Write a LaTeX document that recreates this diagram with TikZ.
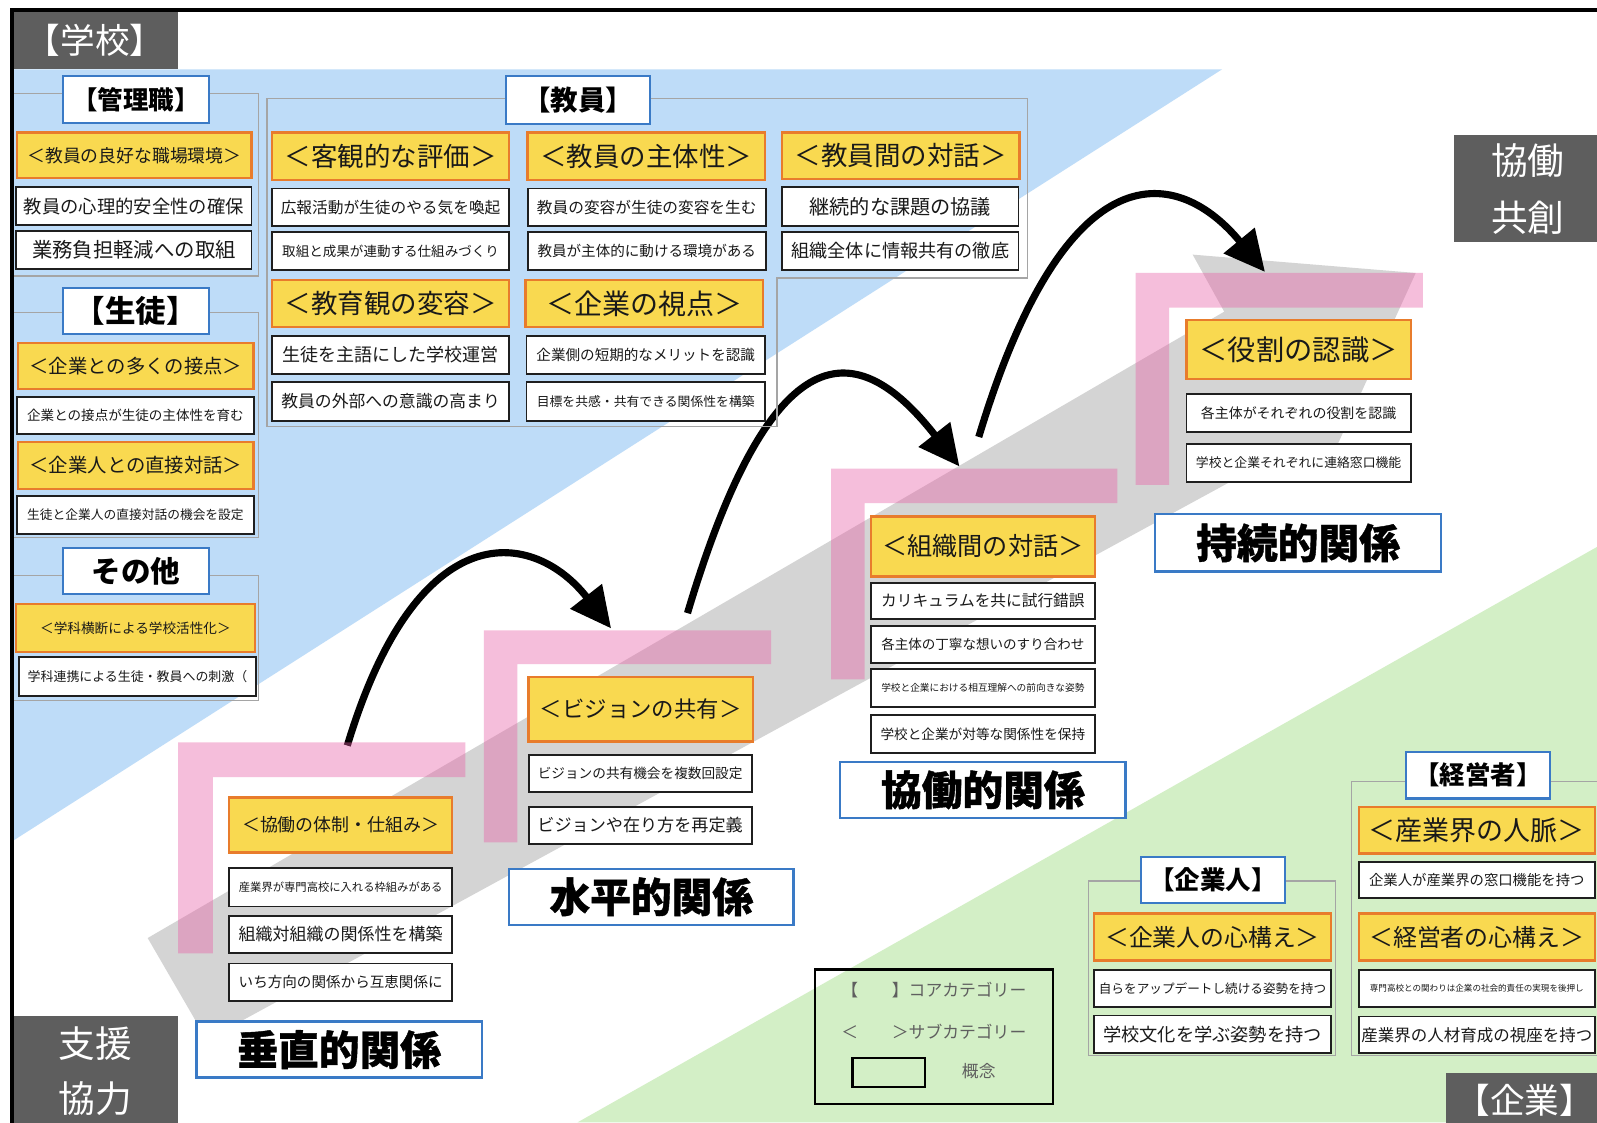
\documentclass[tikz,border=0pt]{standalone}
\usepackage{fontspec}
\setmainfont{Noto Sans CJK JP}
\usetikzlibrary{arrows.meta}
\definecolor{bluebg}{RGB}{190,220,248}
\definecolor{greenbg}{RGB}{211,239,198}
\definecolor{bandgray}{RGB}{212,212,212}
\definecolor{pinkL}{RGB}{232,93,165}
\definecolor{labgray}{RGB}{94,94,94}
\definecolor{subyellow}{RGB}{249,217,80}
\definecolor{suborange}{RGB}{232,124,44}
\definecolor{titleblue}{RGB}{58,122,198}
\definecolor{panelgray}{RGB}{165,165,165}
\definecolor{legtext}{RGB}{95,95,95}
\begin{document}
\begin{tikzpicture}[x=1pt,y=-1pt,
  R/.style n args={4}{minimum width={#3-#1}, minimum height={#4-#2}, at={({(#1+#3)/2},{(#2+#4)/2})}},
  fs/.style={font=\fontsize{#1pt}{#1pt}\selectfont},
  fsb/.style={font=\fontsize{#1pt}{#1pt}\selectfont\bfseries},
  cbox/.style={draw=black!88, line width=1.8pt, fill=white, inner sep=0pt, text=black!90},
  sbox/.style={draw=suborange, line width=2.2pt, fill=subyellow, inner sep=0pt, text=black!90},
  tbox/.style={draw=titleblue, line width=2pt, fill=white, inner sep=0pt, text=black},
  hbox/.style={draw=titleblue, line width=2.2pt, fill=white, inner sep=0pt, text=black,
    font=\fontsize{40pt}{40pt}\selectfont\bfseries\addfontfeatures{FakeBold=1}},
  lab/.style={fill=labgray, inner sep=0pt, text=white, align=center},
  panel/.style={draw=panelgray, line width=1.3pt},
  pinkbar/.style={fill=pinkL, fill opacity=0.4},
  jump/.style={line width=7pt, -{Triangle[length=40pt,width=38pt]}},
  legt/.style={text=legtext, fs=16.5, inner sep=0pt},
]
\useasboundingbox (0,0) rectangle (1568,1102);
\clip (0,0) rectangle (1568,1102);
\fill[white] (0,0) rectangle (1568,1102);
% background regions
\fill[bluebg] (12,68) -- (1200,68) -- (12,826) -- cycle;
\fill[greenbg] (567,1102) -- (1568,537) -- (1568,1102) -- cycle;
% gray band
\fill[bandgray] (145,921) -- (1202,306) -- (1171,250) -- (1390,268) -- (1313,437) -- (1274,437) -- (203,1021) -- cycle;
% arrows
\coordinate (a1s) at (341,732); \coordinate (a1e) at (600,617);
\coordinate (a2s) at (675,602); \coordinate (a2e) at (942,458);
\coordinate (a3s) at (961,429); \coordinate (a3e) at (1242,267);
\draw[jump] (a1s) .. controls (411,500) and (525,521) .. (a1e);
\draw[jump] (a2s) .. controls (762,310) and (848,338) .. (a2e);
\draw[jump] (a3s) .. controls (1048,140) and (1158,165) .. (a3e);
% pink L shapes
\fill[pinkbar] (175,729) -- (457,729) -- (457,763) -- (209,763) -- (209,936) -- (175,936) -- cycle;
\fill[pinkbar] (475,619) -- (757,619) -- (757,652) -- (508,652) -- (508,827) -- (475,827) -- cycle;
\fill[pinkbar] (816,460) -- (1097,460) -- (1097,494) -- (849,494) -- (849,667) -- (816,667) -- cycle;
\fill[pinkbar] (1115,268) -- (1397,268) -- (1397,302) -- (1148,302) -- (1148,476) -- (1115,476) -- cycle;
% panel outlines
\draw[panel] (12,92) rectangle (254,271);
\draw[panel] (12,307) rectangle (254,528);
\draw[panel] (12,565) rectangle (254,688);
\draw[panel] (262,97) -- (1009,97) -- (1009,273) -- (763,273) -- (763,419) -- (262,419) -- cycle;
\draw[panel] (1069,865) rectangle (1311,1036);
\draw[panel] (1580,767) -- (1327,767) -- (1327,1036) -- (1580,1036);
% titles
\node[tbox, fsb=25, R={62}{75}{205}{121}] (tKanri) {【管理職】};
\node[tbox, fsb=30, R={62}{283}{205}{328}] (tSeito) {【生徒】};
\node[tbox, fsb=29, R={62}{538}{205}{583}] (tSonota) {その他};
\node[tbox, fsb=27, R={497}{75}{638}{122}] (tKyoin) {【教員】};
\node[tbox, fsb=25, R={1120}{841}{1262}{887}] (tKigyojin) {【企業人】};
\node[tbox, fsb=25, R={1380}{738}{1522}{784}] (tKeiei) {【経営者】};
% left column
\node[sbox, fs=17.5, R={17}{130}{247}{175}] (sK1) {＜教員の良好な職場環境＞};
\node[cbox, fs=18, R={16}{184}{247}{221}] (cK1) {教員の心理的安全性の確保};
\node[cbox, fs=20, R={16}{227}{247}{264}] (cK2) {業務負担軽減への取組};
\node[sbox, fs=19, R={18}{337}{249}{382}] (sS1) {＜企業との多くの接点＞};
\node[cbox, fs=13.3, R={17}{390}{249}{426}] (cS1) {企業との接点が生徒の主体性を育む};
\node[sbox, fs=19, R={18}{434}{249}{480}] (sS2) {＜企業人との直接対話＞};
\node[cbox, fs=12.5, R={17}{487}{249}{524}] (cS2) {生徒と企業人の直接対話の機会を設定};
\node[sbox, fs=13.4, R={16}{593}{250}{640}] (sO1) {＜学科横断による学校活性化＞};
\node[cbox, fs=12.7, R={19}{645}{251}{683}] (cO1) {学科連携による生徒・教員への刺激（};
% teachers panel
\node[sbox, fs=26, R={267}{130}{500}{177}] (sT1) {＜客観的な評価＞};
\node[cbox, fs=15.4, R={267}{185}{500}{222}] (cT1a) {広報活動が生徒のやる気を喚起};
\node[cbox, fs=13.3, R={267}{228}{500}{265}] (cT1b) {取組と成果が連動する仕組みづくり};
\node[sbox, fs=26, R={518}{130}{751}{177}] (sT2) {＜教員の主体性＞};
\node[cbox, fs=15.4, R={518}{185}{752}{222}] (cT2a) {教員の変容が生徒の変容を生む};
\node[cbox, fs=14.3, R={518}{228}{752}{265}] (cT2b) {教員が主体的に動ける環境がある};
\node[sbox, fs=26, R={768}{130}{1001}{176}] (sT3) {＜教員間の対話＞};
\node[cbox, fs=19.8, R={768}{184}{1000}{222}] (cT3a) {継続的な課題の協議};
\node[cbox, fs=17.8, R={768}{228}{1000}{265}] (cT3b) {組織全体に情報共有の徹底};
\node[sbox, fs=26, R={267}{275}{500}{321}] (sT4) {＜教育観の変容＞};
\node[cbox, fs=17.7, R={267}{330}{500}{367}] (cT4a) {生徒を主語にした学校運営};
\node[cbox, fs=16.5, R={267}{375}{500}{413}] (cT4b) {教員の外部への意識の高まり};
\node[sbox, fs=27.5, R={516}{275}{749}{321}] (sT5) {＜企業の視点＞};
\node[cbox, fs=14.3, R={517}{330}{751}{367}] (cT5a) {企業側の短期的なメリットを認識};
\node[cbox, fs=12.6, R={517}{375}{751}{413}] (cT5b) {目標を共感・共有できる関係性を構築};
% steps
\node[sbox, fs=17.6, R={225}{783}{444}{837}] (sV) {＜協働の体制・仕組み＞};
\node[cbox, fs=11.1, R={225}{852}{444}{890}] (cV1) {産業界が専門高校に入れる枠組みがある};
\node[cbox, fs=16.7, R={225}{899}{444}{936}] (cV2) {組織対組織の関係性を構築};
\node[cbox, fs=14.3, R={225}{946}{444}{983}] (cV3) {いち方向の関係から互恵関係に};
\node[hbox, R={193}{1003}{473}{1058}] (hV) {垂直的関係};
\node[sbox, fs=22, R={519}{665}{739}{728}] (sH) {＜ビジョンの共有＞};
\node[cbox, fs=13.4, R={519}{741}{738}{778}] (cH1) {ビジョンの共有機会を複数回設定};
\node[cbox, fs=16.8, R={519}{792}{738}{829}] (cH2) {ビジョンや在り方を再定義};
\node[hbox, R={500}{853}{779}{908}] (hH) {水平的関係};
\node[sbox, fs=24.7, R={855}{507}{1075}{566}] (sC) {＜組織間の対話＞};
\node[cbox, fs=15.4, R={855}{572}{1075}{608}] (cC1) {カリキュラムを共に試行錯誤};
\node[cbox, fs=13.3, R={855}{615}{1075}{651}] (cC2) {各主体の丁寧な想いのすり合わせ};
\node[cbox, fs=9.5, R={855}{657}{1075}{694}] (cC3) {学校と企業における相互理解への前向きな姿勢};
\node[cbox, fs=13.4, R={855}{702}{1075}{739}] (cC4) {学校と企業が対等な関係性を保持};
\node[hbox, R={825}{748}{1105}{803}] (hC) {協働的関係};
\node[sbox, fs=27.8, R={1165}{314}{1385}{372}] (sJ) {＜役割の認識＞};
\node[cbox, fs=13.7, R={1165}{387}{1385}{424}] (cJ1) {各主体がそれぞれの役割を認識};
\node[cbox, fs=12.6, R={1165}{436}{1385}{473}] (cJ2) {学校と企業それぞれに連絡窓口機能};
\node[hbox, R={1134}{505}{1415}{561}] (hJ) {持続的関係};
% company side
\node[sbox, fs=23.4, R={1074}{897}{1307}{943}] (sE1) {＜企業人の心構え＞};
\node[cbox, fs=12.4, R={1074}{952}{1307}{989}] (cE1a) {自らをアップデートし続ける姿勢を持つ};
\node[cbox, fs=17.9, R={1074}{997}{1307}{1034}] (cE1b) {学校文化を学ぶ姿勢を持つ};
\node[sbox, fs=26.5, R={1334}{792}{1566}{838}] (sM1) {＜産業界の人脈＞};
\node[cbox, fs=14.1, R={1334}{846}{1566}{882}] (cM1) {企業人が産業界の窓口機能を持つ};
\node[sbox, fs=23.5, R={1334}{897}{1566}{943}] (sM2) {＜経営者の心構え＞};
\node[cbox, fs=8.4, R={1334}{952}{1566}{989}] (cM2) {専門高校との関わりは企業の社会的責任の実現を後押し};
\node[cbox, fs=16.2, R={1334}{998}{1566}{1034}] (cM3) {産業界の人材育成の視座を持つ};
% legend
\node[draw=black, line width=2.5pt, inner sep=0pt, R={800}{952}{1034}{1084}] (legend) {};
\node[legt, anchor=west] (leg1) at (826,972) {【　　】コアカテゴリー};
\node[legt, anchor=west] (leg2) at (826,1013) {＜　　＞サブカテゴリー};
\node[draw=black, line width=2.2pt, inner sep=0pt, R={837}{1039}{908}{1067}] (legbox) {};
\node[legt] (leg3) at (961,1052) {概念};
% dark labels
\node[lab, fs=34, R={12}{12}{175}{68}] (lSchool) {【学校】};
\node[lab, font=\fontsize{36pt}{56pt}\selectfont, R={1428}{133}{1572}{238}] (lKyodo) {協働\\共創};
\node[lab, font=\fontsize{36pt}{54pt}\selectfont, R={12}{998}{175}{1106}] (lShien) {支援\\協力};
\node[lab, fs=34, minimum width=160, minimum height=58, anchor=north west] (lKigyo) at (1420,1053) {};
\node[text=white, fs=34, inner sep=0pt] (lKigyoT) at (1497,1080) {【企業】};
% frame
\draw[line width=3.5pt] (12,1110) -- (12,10) -- (1580,10);
\end{tikzpicture}
\end{document}
